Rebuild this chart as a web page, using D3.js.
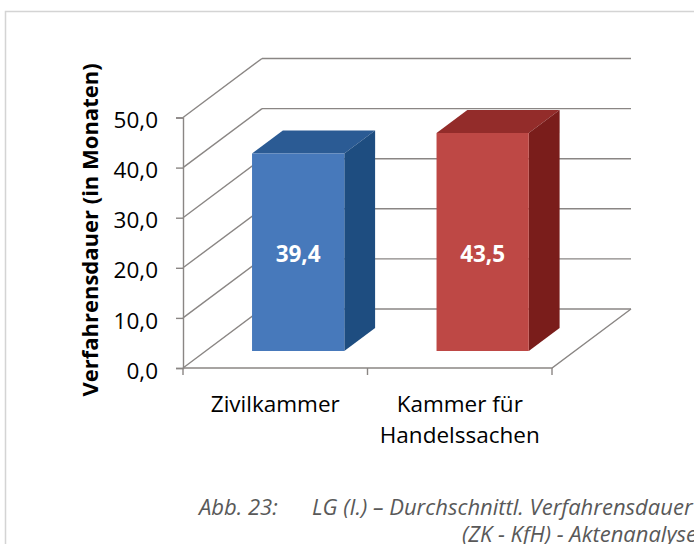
<!DOCTYPE html>
<html>
<head>
<meta charset="utf-8">
<script src="https://cdn.jsdelivr.net/npm/d3@7"></script>
<style>
    body { margin: 0; background: #fff; }
    svg { display: block; }
    .grid { stroke: #8a8684; stroke-width: 1.4; fill: none; }
    .tick text, .lbl { font-family: "Open Sans", sans-serif; fill: #000; }
</style>
</head>
<body>
<script>
//chart values
var categories = [["Zivilkammer"], ["Kammer für", "Handelssachen"]];
var values = [39.4, 43.5];
var valueLabels = ["39,4", "43,5"];
var yTicks = [0, 10, 20, 30, 40, 50];
var yTickLabels = ["0,0", "10,0", "20,0", "30,0", "40,0", "50,0"];

window.onload = drawChart();

function drawChart(){
    var width = 694,
        height = 544;

    var svg = d3.select("body")
        .append("svg")
        .attr("width", width)
        .attr("height", height);

    //outer frame (runs off the right and bottom edge)
    svg.append("path")
        .attr("d", "M5.5,700 V11.5 H800")
        .attr("fill", "none")
        .attr("stroke", "#d4d4d4")
        .attr("stroke-width", 1.5);

    //depth vector of the 3d box
    var depthX = 79,
        depthY = -59;

    //front wall scales
    var x = d3.scaleBand()
        .domain(d3.range(categories.length))
        .range([183, 552])
        .paddingInner(0.5)
        .paddingOuter(0.25);

    var y = d3.scaleLinear()
        .domain([0, 50])
        .range([368, 117.5]);

    //move a point into the depth
    function proj(px, py, f){
        return [px + f * depthX, py + f * depthY];
    }

    //back wall gridlines
    svg.selectAll(".backGrid")
        .data(yTicks)
        .enter()
        .append("line")
        .attr("class", "grid")
        .attr("x1", 183 + depthX)
        .attr("x2", 552 + depthX)
        .attr("y1", function(d){ return y(d) + depthY; })
        .attr("y2", function(d){ return y(d) + depthY; });

    //side wall diagonals
    svg.selectAll(".sideGrid")
        .data(yTicks)
        .enter()
        .append("line")
        .attr("class", "grid")
        .attr("x1", 183)
        .attr("y1", function(d){ return y(d); })
        .attr("x2", 183 + depthX)
        .attr("y2", function(d){ return y(d) + depthY; });

    //floor: front edge and right edge
    svg.append("path")
        .attr("class", "grid")
        .attr("d", "M183," + y(0) + " H552 L" + (552 + depthX) + "," + (y(0) + depthY));

    //front y axis
    var yAxis = d3.axisLeft(y)
        .tickValues(yTicks)
        .tickFormat(function(d, i){ return yTickLabels[i]; })
        .tickSize(7)
        .tickPadding(18);

    var gy = svg.append("g")
        .attr("transform", "translate(183,0)")
        .call(yAxis);
    gy.select(".domain").attr("stroke", "#8a8684").attr("stroke-width", 1.4);
    gy.selectAll(".tick line").attr("stroke", "#8a8684").attr("stroke-width", 1.4);
    gy.selectAll(".tick text")
        .attr("font-size", "22.5px")
        .attr("dy", "0.45em");

    //bottom ticks
    var xTicks = [183, 183 + x.step(), 552];
    svg.selectAll(".xTick")
        .data(xTicks)
        .enter()
        .append("line")
        .attr("class", "grid")
        .attr("x1", function(d){ return d; })
        .attr("x2", function(d){ return d; })
        .attr("y1", y(0))
        .attr("y2", y(0) + 7);

    //bars
    var barFront = 0.29,
        barBack = 0.68;
    var colors = [
        {front: "#4779bb", side: "#1e4d80", top: "#2b5b94"},
        {front: "#be4845", side: "#7a1d1b", top: "#932c2a"}
    ];

    var bars = svg.selectAll(".bar")
        .data(values)
        .enter()
        .append("g")
        .attr("class", "bar");

    bars.each(function(d, i){
        var g = d3.select(this),
            x0 = x(i),
            x1 = x(i) + x.bandwidth(),
            yb = y(0),
            yt = y(d);
        var fl = proj(x0, yb, barFront), fr = proj(x1, yb, barFront),
            ftl = proj(x0, yt, barFront), ftr = proj(x1, yt, barFront),
            br = proj(x1, yb, barBack), btl = proj(x0, yt, barBack),
            btr = proj(x1, yt, barBack);

        g.append("polygon")
            .attr("points", [ftl, ftr, btr, btl].join(" "))
            .attr("fill", colors[i].top);
        g.append("polygon")
            .attr("points", [fr, ftr, btr, br].join(" "))
            .attr("fill", colors[i].side);
        g.append("polygon")
            .attr("points", [fl, fr, ftr, ftl].join(" "))
            .attr("fill", colors[i].front);

        //value label
        g.append("text")
            .attr("class", "lbl")
            .attr("x", (fl[0] + fr[0]) / 2)
            .attr("y", fl[1] - 89)
            .attr("text-anchor", "middle")
            .attr("font-size", "22.5px")
            .attr("font-weight", "bold")
            .style("fill", "#fff")
            .text(valueLabels[i]);
    });

    //category labels
    svg.selectAll(".cat")
        .data(categories)
        .enter()
        .append("text")
        .attr("class", "lbl")
        .attr("text-anchor", "middle")
        .attr("font-size", "22.5px")
        .attr("x", function(d, i){ return x(i) + x.bandwidth() / 2; })
        .attr("y", 412)
        .selectAll("tspan")
        .data(function(d){ return d; })
        .enter()
        .append("tspan")
        .attr("x", function(){ return d3.select(this.parentNode).attr("x"); })
        .attr("dy", function(d, j){ return j == 0 ? 0 : 31; })
        .text(function(d){ return d; });

    //y axis title
    svg.append("text")
        .attr("class", "lbl")
        .attr("transform", "translate(98,230) rotate(-90)")
        .attr("text-anchor", "middle")
        .attr("font-size", "22px")
        .attr("font-weight", "bold")
        .text("Verfahrensdauer (in Monaten)");

    //caption
    var cap = svg.append("g")
        .attr("font-family", "'Open Sans', sans-serif")
        .attr("font-style", "italic")
        .attr("font-size", "22px")
        .attr("fill", "#595959");
    cap.append("text").attr("x", 199).attr("y", 515).text("Abb. 23:");
    cap.append("text").attr("x", 312).attr("y", 515).text("LG (I.) – Durchschnittl. Verfahrensdauer");
    cap.append("text").attr("x", 697).attr("y", 542).attr("text-anchor", "end").text("(ZK - KfH) - Aktenanalyse");
};
</script>
</body>
</html>
